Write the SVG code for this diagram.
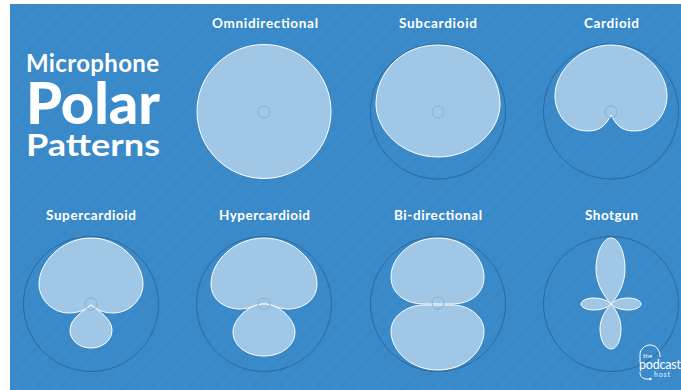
<svg xmlns="http://www.w3.org/2000/svg" width="681" height="390" viewBox="0 0 681 390">
<defs>
<pattern id="st" width="9" height="9" patternUnits="userSpaceOnUse" patternTransform="rotate(45)">
<rect width="9" height="9" fill="#3b8bca"/><rect width="4" height="9" fill="#3988c7"/>
</pattern>
<style>
.t{font-family:"Lato","Liberation Sans",sans-serif;font-weight:700;fill:#fff}
.lab{font-size:13.5px;text-anchor:start}
.ring{fill:none;stroke:#2a6a9e;stroke-width:1}
.lobe{fill:#a0c8e6;stroke:#fff;stroke-width:1;stroke-linejoin:round}
.hub{fill:none;stroke:#84b0d0;stroke-width:1}
</style>
</defs>
<rect width="681" height="390" fill="#fff"/>
<rect x="10" y="4" width="671" height="386" fill="url(#st)"/>
<g id="title">
<text class="t" x="26" y="71.500" font-size="24" textLength="133">Microphone</text>
<text class="t" x="26" y="123.500" font-size="58" font-weight="900" style="font-weight:900" textLength="134" lengthAdjust="spacingAndGlyphs">Polar</text>
<text class="t" x="26" y="155.500" font-size="31" textLength="134" lengthAdjust="spacingAndGlyphs">Patterns</text>
</g>
<g id="omnidirectional"><text class="t lab" x="212" y="27.500" textLength="106">Omnidirectional</text>
<circle class="lobe" cx="264" cy="111.500" r="67"/><circle class="hub" cx="264" cy="112" r="6"/></g>
<g id="subcardioid"><text class="t lab" x="399" y="27.500" textLength="78">Subcardioid</text>
<circle class="ring" cx="438" cy="111.500" r="67.500"/>
<path class="lobe" d="M438 45C478 45 500 76 500 104C500 130 474 157 438 157C402 157 376 130 376 104C376 76 398 45 438 45Z"/><circle class="hub" cx="438" cy="112" r="6"/></g>
<g id="cardioid"><text class="t lab" x="584" y="27.500" textLength="55">Cardioid</text>
<circle class="ring" cx="611" cy="111.500" r="67.500"/>
<path class="lobe" d="M611 45C642 45 667 71 667 96C667 112 656 131 634 131C619 131 615 122 611 115C607 122 603 131 588 131C566 131 555 112 555 96C555 71 580 45 611 45Z"/><circle class="hub" cx="611" cy="112" r="6"/></g>
<g id="supercardioid"><text class="t lab" x="46" y="220" textLength="90">Supercardioid</text>
<circle class="ring" cx="91" cy="304" r="67.500"/>
<path class="lobe" d="M91 238C122 238 143 264 143 284C143 299 130 313 113 313C102 313 96 309 91 305C86 309 80 313 69 313C52 313 39 299 39 284C39 264 60 238 91 238Z"/>
<path class="lobe" d="M91 305C99 311 112 319 112 330C112 341 102 348 91 348C80 348 70 341 70 330C70 319 83 311 91 305Z"/><circle class="hub" cx="91" cy="304" r="6"/></g>
<g id="hypercardioid"><text class="t lab" x="219" y="220" textLength="91">Hypercardioid</text>
<circle class="ring" cx="264" cy="304" r="67.500"/>
<path class="lobe" d="M264 238C293 238 317 261 317 284C317 300 303 309 288 309C278 309 272 304 264 304C256 304 250 309 240 309C225 309 211 300 211 284C211 261 235 238 264 238Z"/>
<path class="lobe" d="M264 304C280 304 295 320 295 332C295 346 281 356 264 356C247 356 233 346 233 332C233 320 248 304 264 304Z"/><circle class="hub" cx="264" cy="304" r="6"/></g>
<g id="bi-directional"><text class="t lab" x="394" y="220" textLength="88">Bi-directional</text>
<circle class="ring" cx="438" cy="304" r="67.500"/>
<path class="lobe" d="M438 238C466 238 484 258 484 277C484 294 470 304 452 304L424 304C406 304 391 294 391 277C391 258 410 238 438 238Z"/>
<path class="lobe" d="M424 305L452 305C470 305 484 317 484 331C484 350 466 370 438 370C410 370 391 350 391 331C391 317 406 305 424 305Z"/><circle class="hub" cx="438" cy="303" r="6"/></g>
<g id="shotgun"><text class="t lab" x="585" y="220" textLength="53">Shotgun</text>
<circle class="ring" cx="611" cy="304" r="67.500"/>
<circle class="hub" cx="611" cy="304" r="6"/>
<path class="lobe" d="M611 238C619 238 625 253 625 269C625 284 618 296 611 304C604 296 596 284 596 269C596 253 603 238 611 238Z"/>
<path class="lobe" d="M611 304C605 311 600 319 600 329C600 340 605 349 611 349C617 349 621 340 621 329C621 319 617 311 611 304Z"/>
<path class="lobe" d="M611 304C615 300 621 298 628 298C636 298 641 301 641 304C641 307 636 310 628 310C621 310 615 308 611 304Z"/>
<path class="lobe" d="M611 304C607 300 601 298 594 298C586 298 581 301 581 304C581 307 586 310 594 310C601 310 607 308 611 304Z"/>
</g>
<g id="logo" fill="#fff" font-family="Lato,'Liberation Sans',sans-serif" font-weight="400">
<path d="M640 362V355C640 349 645 345 650 345C656 345 660 350 660 357M640 372C640 377 643 379 647 379H650" fill="none" stroke="#fff" stroke-width="1"/>
<circle cx="650.500" cy="379" r="1.200"/>
<text x="643" y="358" font-size="6.500" opacity=".9">the</text>
<text x="639" y="369" font-size="12.500" textLength="42">podcast</text>
<text x="654" y="377" font-size="7" textLength="16" opacity=".9">host</text>
</g>
</svg>
